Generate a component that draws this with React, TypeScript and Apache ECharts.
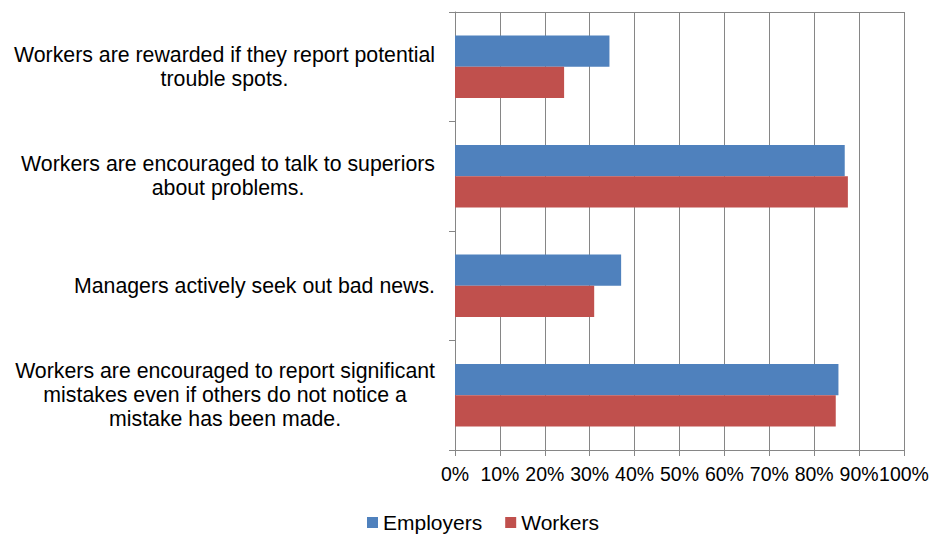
import React, { useEffect, useRef } from "react";
import * as echarts from "echarts";

const categories = [
  "Workers are rewarded if they report potential\ntrouble spots.",
  "Workers are encouraged to talk to superiors\nabout problems.",
  "Managers actively seek out bad news.",
  "Workers are encouraged to report significant\nmistakes even if others do not notice a\nmistake has been made.",
];
const employers = [34.4, 86.8, 37.0, 85.4];
const workers = [24.3, 87.5, 31.0, 84.8];
const seriesNames = ["Employers", "Workers"];

export default function App() {
  const ref = useRef<HTMLDivElement>(null);
  useEffect(() => {
    document.body.style.margin = "0";
    const chart = echarts.init(ref.current!, null, { renderer: "svg" });
    const font = "'Liberation Sans', Arial, sans-serif";
    chart.setOption({
      animation: false,
      grid: { left: 455, right: 33, top: 12, bottom: 84, containLabel: false },
      legend: {
        data: seriesNames,
        bottom: -4,
        left: 362,
        itemWidth: 11,
        itemHeight: 11,
        itemGap: 23,
        icon: "rect",
        textStyle: { fontSize: 21, fontFamily: font, color: "#000" },
      },
      xAxis: [
        {
          type: "value",
          min: 0,
          max: 100,
          interval: 10,
          position: "bottom",
          axisLine: { show: true, lineStyle: { color: "#868686", width: 1 } },
          axisTick: { show: true, length: 6, lineStyle: { color: "#868686" } },
          axisLabel: {
            formatter: (v: number) => v + "%",
            fontSize: 19.5,
            fontFamily: font,
            color: "#000",
            margin: 14,
            showMaxLabel: true,
            showMinLabel: true,
            hideOverlap: false,
          },
          splitLine: { show: true, lineStyle: { color: "#868686", width: 1 } },
        },
        {
          type: "value",
          min: 0,
          max: 100,
          interval: 10,
          position: "top",
          axisLine: { show: true, lineStyle: { color: "#868686", width: 1 } },
          axisTick: { show: false },
          axisLabel: { show: false },
          splitLine: { show: false },
        },
      ],
      yAxis: {
        type: "category",
        inverse: true,
        data: categories,
        axisLine: { show: true, lineStyle: { color: "#868686", width: 1 } },
        axisTick: { show: true, length: 6, lineStyle: { color: "#868686" } },
        axisLabel: {
          margin: 20,
          formatter: (v: string) =>
            v
              .split("\n")
              .map((l) => `{a|${l}}`)
              .join("\n"),
          rich: {
            a: {
              fontSize: 21.3,
              lineHeight: 24,
              align: "center",
              fontFamily: font,
              color: "#000",
            },
          },
        },
      },
      series: [
        {
          name: seriesNames[0],
          type: "bar",
          data: employers,
          barGap: "0%",
          barCategoryGap: "43%",
          itemStyle: { color: "#4F81BD" },
        },
        {
          name: seriesNames[1],
          type: "bar",
          data: workers,
          barGap: "0%",
          barCategoryGap: "43%",
          itemStyle: { color: "#C0504D" },
        },
      ],
    });
    return () => chart.dispose();
  }, []);
  return <div ref={ref} style={{ width: 937, height: 534 }} />;
}
